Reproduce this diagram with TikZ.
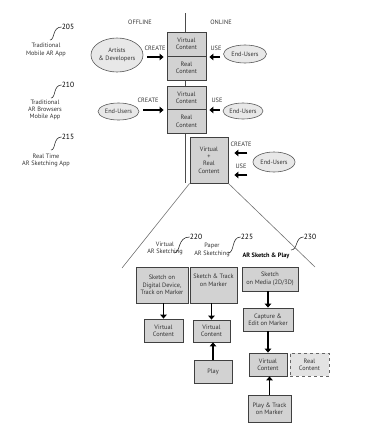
\documentclass[tikz,border=0pt]{standalone}
\usepackage{fontspec}
\setmainfont{PT Sans}
\usetikzlibrary{shapes.geometric,arrows.meta}
\begin{document}
\begin{tikzpicture}[x=1pt,y=-1pt,
  every node/.style={font=\fontsize{6.3}{7.3}\selectfont, text=black!80},
  box/.style={draw=black!75, fill=gray!35, line width=0.8pt, align=center, inner sep=0pt},
  dbox/.style={box, dashed, draw=black!60, fill=gray!22},
  ell/.style={ellipse, draw=black!65, fill=gray!18, line width=0.6pt, align=center, inner sep=0pt},
  arr/.style={line width=1.4pt, -{Triangle[length=4pt,width=6.5pt]}},
  lbl/.style={align=center, inner sep=0pt},
  num/.style={font=\fontsize{7.5}{8.5}\selectfont, text=black, inner sep=0pt},
  lead/.style={line width=0.6pt, black!80},
  tri/.style={line width=0.6pt, black!55}]
\useasboundingbox (0,0) rectangle (391,442);
% divider
\coordinate (dtop) at (185,13);
\coordinate (dbot) at (185,183);
\draw[line width=0.6pt, black!70] (dtop) -- (dbot);
\node[lbl] (off) at (140,22) {OFFLINE};
\node[lbl] (on) at (221,22) {ONLINE};
% left labels
\node[num] (n205) at (68,27) {205};
\node[lbl] (t205) at (46,50) {Traditional\\Mobile AR App};
\draw[lead] (50,40) .. controls (55,40) and (52,27) .. (n205.west);
\node[num] (n210) at (68,85) {210};
\node[lbl] (t210) at (45,110) {Traditional\\AR Browsers\\Mobile App};
\draw[lead] (51,98) .. controls (56,98) and (53,85) .. (n210.west);
\node[num] (n215) at (68,137) {215};
\node[lbl] (t215) at (46,160.5) {Real Time\\AR Sketching App};
\draw[lead] (51,150) .. controls (56,150) and (53,137) .. (n215.west);
% row 1
\node[box, minimum width=39, minimum height=24] (v1) at (186.5,44) {Virtual\\Content};
\node[box, minimum width=39, minimum height=24] (r1) at (186.5,68) {Real\\Content};
\node[ell, minimum width=51, minimum height=34] (a1) at (117,55) {Artists\\\& Developers};
\node[ell, minimum width=43, minimum height=18] (e1) at (245,54) {End-Users};
\node[lbl] (c1) at (155,48) {CREATE};
\node[lbl] (u1) at (216,48) {USE};
\draw[arr, shorten <=4pt, shorten >=3pt] (a1.east |- 0,57) -- (v1.south west |- 0,57);
\draw[arr, shorten <=3pt, shorten >=3pt] (e1.west |- 0,57) -- (v1.south east |- 0,57);
% row 2
\node[box, minimum width=39, minimum height=23.5] (v2) at (186.5,97.75) {Virtual\\Content};
\node[box, minimum width=39, minimum height=23.5] (r2) at (186.5,121.25) {Real\\Content};
\node[ell, minimum width=41, minimum height=17] (e2l) at (118.5,111.5) {End-Users};
\node[ell, minimum width=40, minimum height=16] (e2r) at (243,111) {End-Users};
\node[lbl] (c2) at (148,100) {CREATE};
\node[lbl] (u2) at (217,100) {USE};
\draw[arr, shorten <=4pt, shorten >=3pt] (e2l.east |- 0,110) -- (v2.south west |- 0,110);
\draw[arr, shorten <=3pt, shorten >=3pt] (e2r.west |- 0,110) -- (v2.south east |- 0,110);
% row 3
\node[box, minimum width=38, minimum height=46] (b3) at (209,160) {Virtual\\+\\Real\\Content};
\node[ell, minimum width=42, minimum height=20] (e3) at (274,162) {End-Users};
\node[lbl] (c3) at (241,144) {CREATE};
\node[lbl] (u3) at (241,166) {USE};
\draw[arr] ([xshift=19pt,yshift=7pt]b3.east) -- ([xshift=6pt,yshift=7pt]b3.east);
\draw[arr] ([xshift=19pt,yshift=-15pt]b3.east) -- ([xshift=6pt,yshift=-15pt]b3.east);
% triangle
\coordinate (tl) at (122,268);
\coordinate (tr) at (315,267);
\draw[tri] (b3.south west) -- (tl);
\draw[tri] (b3.south east) -- (tr);
% category labels
\node[lbl] (lv) at (165,248.5) {Virtual\\AR Sketching};
\node[lbl] (lp) at (212,250) {Paper\\AR Sketching};
\node[lbl, font=\fontsize{6.3}{7.3}\selectfont\bfseries, text=black] (ls) at (266,256) {AR Sketch \& Play};
\node[num] (n220) at (196,237) {220};
\node[num] (n225) at (247,237) {225};
\node[num] (n230) at (310,237) {230};
\draw[lead] (174,253) .. controls (181,253) and (177,237) .. (n220.west);
\draw[lead] (228,253) .. controls (235,253) and (231,237) .. (n225.west);
\draw[lead] (291,250) .. controls (298,250) and (295,237) .. (n230.west);
% bottom boxes
\node[box, minimum width=52, minimum height=36] (sa) at (162,285) {Sketch on\\Digital Device,\\Track on Marker};
\node[box, minimum width=47, minimum height=36] (sb) at (213.5,285) {Sketch \& Track\\on Marker\\\strut};
\node[box, minimum width=56, minimum height=24] (sc) at (270,279) {Sketch\\on Media (2D/3D)};
\node[box, minimum width=39, minimum height=23] (va) at (163.5,330.5) {Virtual\\Content};
\node[box, minimum width=37, minimum height=22] (vb) at (211.5,331) {Virtual\\Content};
\node[box, minimum width=38, minimum height=23] (pl) at (213,371.5) {Play};
\node[box, minimum width=50, minimum height=23] (ce) at (268,319.5) {Capture \&\\Edit on Marker};
\node[box, minimum width=38, minimum height=23] (vc) at (268,364.5) {Virtual\\Content};
\node[dbox, minimum width=39, minimum height=23] (rc) at (309.5,364.5) {Real\\Content};
\node[box, minimum width=43, minimum height=27] (pt) at (269.5,408.5) {Play \& Track\\on Marker};
\draw[arr] (va.north |- sa.south) -- (va.north);
\draw[arr] (vb.north |- sb.south) -- (vb.north);
\draw[arr] (pl.north) -- (pl.north |- vb.south);
\draw[arr] (ce.north |- sc.south) -- (ce.north);
\draw[arr] (ce.south) -- (ce.south |- vc.north);
\draw[arr] (pt.north) -- (pt.north |- vc.south);
\end{tikzpicture}
\end{document}
